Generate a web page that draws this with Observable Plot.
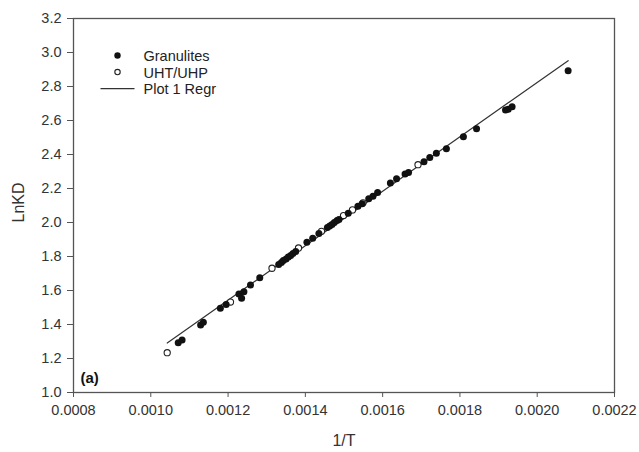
<!DOCTYPE html>
<html>
<head>
<meta charset="utf-8">
<script src="https://cdn.jsdelivr.net/npm/d3@7"></script>
<script src="https://cdn.jsdelivr.net/npm/@observablehq/plot@0.6"></script>
<style>
  html, body { margin: 0; padding: 0; background: #fff; }
  #chart { width: 639px; height: 452px; }
</style>
</head>
<body>
<div id="chart"></div>
<script>
// Granulites: 1/T and ln KD
const granX = [0.001071, 0.001081, 0.001129, 0.001136, 0.001180, 0.001195, 0.001228, 0.001235, 0.001241, 0.001258,
               0.001282, 0.001331, 0.001338, 0.001343, 0.001350, 0.001356, 0.001362, 0.001368, 0.001375, 0.001404,
               0.001419, 0.001435, 0.001457, 0.001463, 0.001469, 0.001475, 0.001482, 0.001487, 0.001511, 0.001536,
               0.001547, 0.001564, 0.001575, 0.001587, 0.001620, 0.001636, 0.001658, 0.001667, 0.001707, 0.001722,
               0.001739, 0.001765, 0.001809, 0.001843, 0.001918, 0.001925, 0.001935, 0.002080];
const granY = [1.293, 1.309, 1.397, 1.413, 1.495, 1.518, 1.579, 1.554, 1.593, 1.632,
               1.675, 1.753, 1.765, 1.776, 1.785, 1.797, 1.806, 1.818, 1.829, 1.884,
               1.907, 1.936, 1.971, 1.979, 1.988, 2.000, 2.012, 2.018, 2.054, 2.095,
               2.110, 2.139, 2.154, 2.176, 2.232, 2.257, 2.285, 2.294, 2.358, 2.383,
               2.407, 2.434, 2.505, 2.552, 2.662, 2.666, 2.681, 2.893];

// UHT/UHP samples
const uhtX = [0.0010425, 0.0012063, 0.0013137, 0.0013823, 0.0014418, 0.0014987, 0.0015220, 0.0015492, 0.0016915];
const uhtY = [1.234, 1.532, 1.731, 1.850, 1.948, 2.041, 2.074, 2.116, 2.340];

// Plot 1 regression: LnKD = slope * (1/T) + intercept
const regrSlope = 1601;
const regrIntercept = -0.378;

const xTicks = [0.0008, 0.0010, 0.0012, 0.0014, 0.0016, 0.0018, 0.0020, 0.0022];
const yTicks = [1.0, 1.2, 1.4, 1.6, 1.8, 2.0, 2.2, 2.4, 2.6, 2.8, 3.0, 3.2];
const legendLabels = ["Granulites", "UHT/UHP", "Plot 1 Regr"];
const xTitle = "1/T";
const yTitle = "LnKD";
const panelTag = "(a)";

const granulites = granX.map((x, i) => ({x, y: granY[i]}));
const uhtUhp = uhtX.map((x, i) => ({x, y: uhtY[i]}));

// regression drawn across the range of the measured samples
const allX = granX.concat(uhtX);
const regrLine = [d3.min(allX), d3.max(allX)].map(x => ({x, y: regrSlope * x + regrIntercept}));

const font = "'Liberation Sans', Arial, sans-serif";
const lineSymbol = { draw(ctx) { ctx.moveTo(-17, 0); ctx.lineTo(17, 0); } };

// legend rows, anchored to the top-left corner of the frame
const legendRow = (i) => 37 + i * 16.6;
const legendMarks = [
  Plot.dot([0], {frameAnchor: "top-left", dx: 44, dy: legendRow(0), r: 3.2, fill: "#111", stroke: "none"}),
  Plot.dot([0], {frameAnchor: "top-left", dx: 44, dy: legendRow(1), r: 2.7, fill: "white", stroke: "#222", strokeWidth: 1.1}),
  Plot.dot([0], {frameAnchor: "top-left", dx: 44, dy: legendRow(2), symbol: lineSymbol, r: 3, fill: "none", stroke: "#333", strokeWidth: 1.2}),
  ...legendLabels.map((t, i) => Plot.text([t], {
    text: d => d, frameAnchor: "top-left", dx: 70, dy: legendRow(i) + 1, textAnchor: "start",
    lineAnchor: "middle", fontSize: 14.5, fill: "#222"
  }))
];

const plot = Plot.plot({
  width: 639,
  height: 452,
  marginLeft: 73,
  marginRight: 25,
  marginTop: 18,
  marginBottom: 60,
  style: { fontFamily: font, fontSize: "14px", color: "#333", background: "#fff" },
  x: { domain: [0.0008, 0.0022] },
  y: { domain: [1.0, 3.2] },
  marks: [
    Plot.axisX({ticks: xTicks, tickFormat: d3.format(".4f"), tickSize: 5, tickPadding: 7,
                 stroke: "#555", fill: "#333", fontSize: 14.5, label: null}),
    Plot.axisY({ticks: yTicks, tickFormat: d3.format(".1f"), tickSize: 6, tickPadding: 6,
                stroke: "#555", fill: "#333", fontSize: 14.5, label: null}),
    Plot.frame({stroke: "#555", strokeWidth: 1.3}),
    Plot.text([xTitle], {text: d => d, frameAnchor: "bottom", dy: 48, lineAnchor: "middle", fontSize: 16, fill: "#333"}),
    Plot.text([yTitle], {text: d => d, frameAnchor: "left", dx: -55, dy: 17, rotate: -90, lineAnchor: "middle", fontSize: 16, fill: "#333"}),
    Plot.line(regrLine, {x: "x", y: "y", stroke: "#333", strokeWidth: 1.2}),
    Plot.dot(uhtUhp, {x: "x", y: "y", r: 3.1, fill: "white", stroke: "#222", strokeWidth: 1.1}),
    Plot.dot(granulites, {x: "x", y: "y", r: 3.5, fill: "#111", stroke: "none"}),
    ...legendMarks,
    Plot.text([panelTag], {text: d => d, frameAnchor: "bottom-left", dx: 7, dy: -14, textAnchor: "start",
                           lineAnchor: "middle", fontSize: 15, fontWeight: "bold", fill: "#111"})
  ]
});

document.getElementById("chart").appendChild(plot);
</script>
</body>
</html>
